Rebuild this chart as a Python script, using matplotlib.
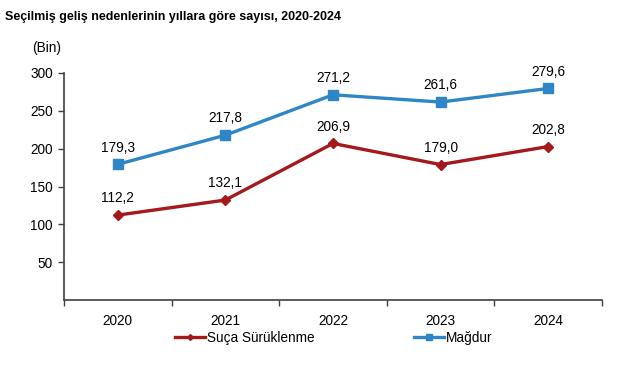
import matplotlib
matplotlib.use('Agg')
import matplotlib.pyplot as plt
import numpy as np

years = ['2020', '2021', '2022', '2023', '2024']
suca = [112.2, 132.1, 206.9, 179.0, 202.8]
magdur = [179.3, 217.8, 271.2, 261.6, 279.6]

plt.rcParams['font.family'] = ['Liberation Sans', 'DejaVu Sans']

fig = plt.figure(figsize=(6.41, 3.80), dpi=100)
ax = fig.add_axes([0.0998, 0.2105, 0.8393, 0.5974])

x = np.arange(len(years))
red = '#A3191C'
blue = '#2F86C6'
ax.plot(x, suca, color=red, lw=2.4, marker='D', ms=5, label='Suça Sürüklenme')
ax.plot(x, magdur, color=blue, lw=2.4, marker='s', ms=6.5, label='Mağdur')

for xi, v in zip(x, suca):
    ax.annotate(f'{v:.1f}'.replace('.', ','), (xi, v), xytext=(0, 7),
                textcoords='offset points', ha='center', va='bottom', fontsize=9.8)
for xi, v in zip(x, magdur):
    ax.annotate(f'{v:.1f}'.replace('.', ','), (xi, v), xytext=(0, 7),
                textcoords='offset points', ha='center', va='bottom', fontsize=9.8)

ax.set_xlim(-0.5, len(years) - 0.5)
ax.set_ylim(0, 300)
ax.set_yticks([50, 100, 150, 200, 250, 300])
ax.set_xticks(x)
ax.set_xticklabels(years)
ax.set_xticks(np.arange(-0.5, len(years)), minor=True)
ax.tick_params(axis='x', which='major', length=0, pad=10, labelsize=9.8)
ax.tick_params(axis='x', which='minor', length=4, width=1, color='#404040', direction='out')
ax.tick_params(axis='y', length=4, width=1, color='#404040', labelsize=9.8, pad=4)

for s in ['top', 'right']:
    ax.spines[s].set_visible(False)
for s in ['left', 'bottom']:
    ax.spines[s].set_color('#404040')
    ax.spines[s].set_linewidth(1.2)

ax.annotate('(Bin)', (0, 1), xycoords='axes fraction', xytext=(-2, 13),
            textcoords='offset points', ha='right', va='bottom', fontsize=9.8)
fig.text(0.008, 0.955, 'Seçilmiş geliş nedenlerinin yıllara göre sayısı, 2020-2024',
         fontsize=9, fontweight='bold', va='center', ha='left')

handles, labels = ax.get_legend_handles_labels()
fig.legend([handles[0]], [labels[0]], loc='center left', bbox_to_anchor=(0.265, 0.11),
           frameon=False, fontsize=9.8, handlelength=2.2, handletextpad=0.1,
           borderaxespad=0, markerscale=0.6)
fig.legend([handles[1]], [labels[1]], loc='center left', bbox_to_anchor=(0.638, 0.11),
           frameon=False, fontsize=9.8, handlelength=2.2, handletextpad=0.1,
           borderaxespad=0, markerscale=0.6)

fig.savefig('out.png', dpi=100)
